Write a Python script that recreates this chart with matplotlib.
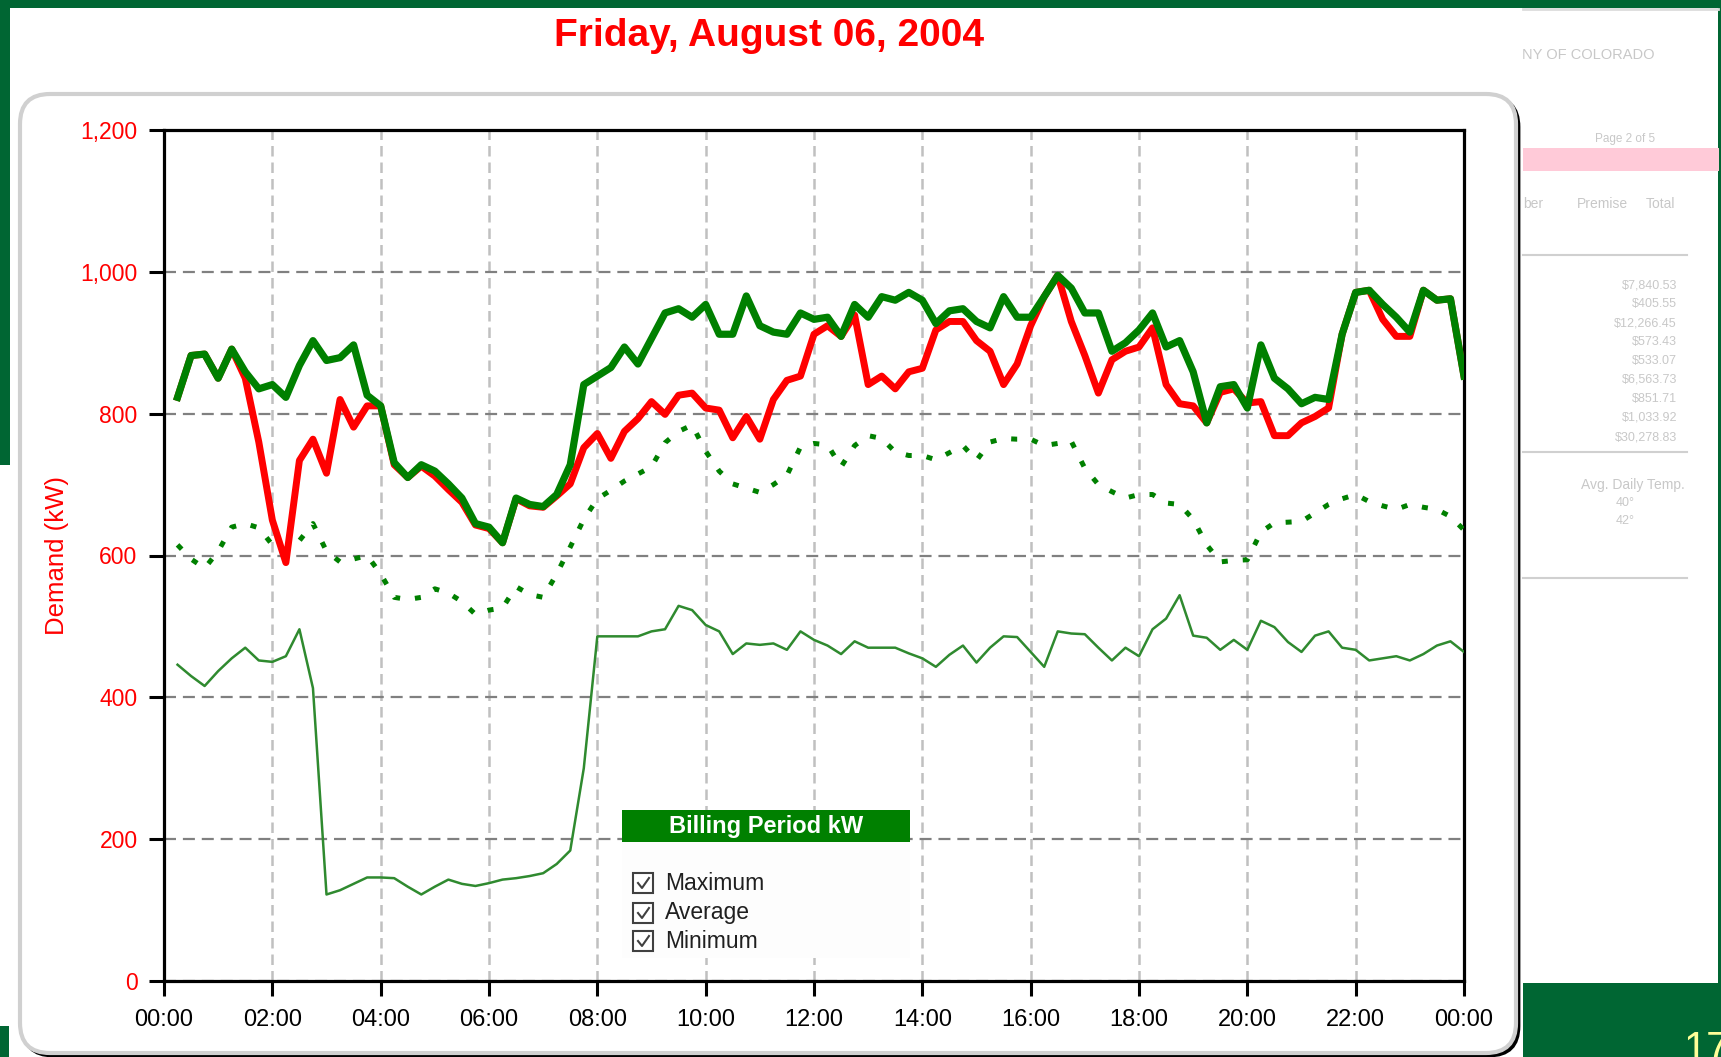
import numpy as np
import matplotlib
matplotlib.use('Agg')
import matplotlib.pyplot as plt
from matplotlib.patches import Rectangle, FancyBboxPatch
from matplotlib.lines import Line2D
from matplotlib.transforms import IdentityTransform
from matplotlib.ticker import FuncFormatter

# --- datos: demanda cada 15 min (00:15 ... 24:00), una fila por hora ---
times = np.arange(1, 97) * 0.25

dia_kw = [
    823, 882, 884, 850,  891, 850, 760, 650,  590, 734, 764, 716,  820, 781, 811, 811,
    728, 710, 726, 712,  693, 675, 643, 638,  618, 680, 670, 668,  684, 701, 752, 772,
    737, 775, 793, 817,  799, 826, 829, 808,  805, 766, 796, 764,  820, 847, 853, 912,
    924, 909, 939, 841,  853, 835, 859, 864,  918, 930, 930, 903,  888, 841, 870, 924,
    965, 995, 930, 882,  829, 876, 888, 894,  921, 841, 814, 811,  787, 830, 835, 815,
    817, 769, 769, 787,  796, 808, 912, 971,  974, 933, 909, 909,  974, 960, 962, 853,
]
maximo_kw = [
    823, 882, 884, 850,  891, 859, 835, 841,  823, 868, 903, 875,  879, 897, 826, 811,
    731, 710, 728, 719,  701, 681, 645, 640,  618, 681, 672, 669,  686, 728, 841, 853,
    865, 894, 870, 906,  942, 948, 936, 954,  912, 912, 966, 924,  915, 912, 942, 933,
    936, 909, 954, 936,  965, 960, 971, 960,  927, 945, 948, 930,  921, 965, 936, 936,
    965, 995, 977, 942,  942, 888, 900, 918,  942, 894, 903, 859,  787, 838, 841, 808,
    897, 850, 835, 814,  823, 820, 912, 971,  974, 954, 936, 915,  974, 960, 962, 853,
]
promedio_kw = [
    615, 595, 582, 606,  640, 645, 639, 615,  606, 621, 645, 606,  591, 595, 600, 574,
    541, 538, 541, 553,  547, 535, 517, 523,  526, 556, 545, 541,  574, 612, 651, 680,
    692, 705, 715, 725,  759, 775, 784, 747,  719, 701, 695, 689,  700, 713, 753, 758,
    756, 725, 755, 769,  765, 746, 741, 741,  735, 745, 755, 734,  760, 765, 764, 764,
    755, 758, 761, 723,  700, 690, 681, 686,  686, 674, 672, 651,  615, 591, 593, 594,
    633, 646, 647, 648,  660, 672, 680, 686,  676, 670, 665, 672,  668, 665, 655, 636,
]
minimo_kw = [
    446, 430, 416, 437,  455, 470, 452, 450,  458, 496, 413, 122,  128, 137, 146, 146,
    145, 133, 122, 133,  143, 137, 134, 138,  143, 145, 148, 152,  165, 184, 300, 486,
    486, 486, 486, 493,  496, 529, 523, 502,  493, 461, 476, 474,  476, 467, 493, 481,
    473, 461, 479, 470,  470, 470, 462, 455,  443, 460, 473, 449,  470, 486, 485, 464,
    443, 493, 490, 489,  470, 452, 470, 458,  496, 511, 544, 487,  484, 467, 481, 467,
    508, 499, 478, 464,  487, 493, 470, 467,  452, 455, 458, 452,  461, 473, 479, 464,
]

x_ticks = list(range(0, 25, 2))
x_labels = ['00:00', '02:00', '04:00', '06:00', '08:00', '10:00', '12:00',
            '14:00', '16:00', '18:00', '20:00', '22:00', '00:00']
y_ticks = [0, 200, 400, 600, 800, 1000, 1200]
leyenda = ['Maximum', 'Average', 'Minimum']

importes = ['$7,840.53', '$405.55', '$12,266.45', '$573.43', '$533.07',
            '$6,563.73', '$851.71', '$1,033.92', '$30,278.83']

W, H = 1721, 1057
PIX = IdentityTransform()
VERDE_OSC = '#006633'
GRIS_TXT = '#c8c8c8'


def py(y):
    """fila de pixel (desde arriba) -> coordenada de pantalla"""
    return H - y


def rect(x, y_top, w, h, **kw):
    r = Rectangle((x, py(y_top + h)), w, h, transform=PIX, **kw)
    fig.add_artist(r)
    return r


def texto(x, y, s, **kw):
    return fig.text(x, py(y), s, transform=PIX, **kw)


def linea(xs, ys, **kw):
    fig.add_artist(Line2D(xs, [py(v) for v in ys], transform=PIX, **kw))


plt.rcParams['font.family'] = ['Liberation Sans', 'DejaVu Sans']

fig = plt.figure(figsize=(W / 100, H / 100), dpi=100)
fig.patch.set_facecolor('white')

# marco verde de la diapositiva
rect(0, 0, W, 8, facecolor=VERDE_OSC, edgecolor='none', zorder=-10)
rect(0, 0, 10, 465, facecolor=VERDE_OSC, edgecolor='none', zorder=-10)
rect(0, 1026, 9, 31, facecolor=VERDE_OSC, edgecolor='none', zorder=-10)
rect(1718, 0, 3, H, facecolor=VERDE_OSC, edgecolor='none', zorder=-10)
rect(1523, 983, W - 1523, H - 983, facecolor=VERDE_OSC, edgecolor='none', zorder=-10)
# numero de diapositiva, cortado por el borde como en el original
texto(1684, 1030, '17', color='#ffff99', fontsize=30, va='top', ha='left')

# factura difuminada a la derecha
linea([1523, 1718], [9, 9], color='#dcdcdc', lw=2, zorder=-9)
texto(1522, 55, 'NY OF COLORADO', color=GRIS_TXT, fontsize=10.5, va='center')
texto(1625, 139, 'Page 2 of 5', color=GRIS_TXT, fontsize=8.5, va='center', ha='center')
rect(1523, 148, 196, 23, facecolor='#ffcad8', edgecolor='none', zorder=-9)
texto(1523, 204, 'ber', color=GRIS_TXT, fontsize=10, va='center')
texto(1577, 204, 'Premise', color=GRIS_TXT, fontsize=10, va='center')
texto(1646, 204, 'Total', color=GRIS_TXT, fontsize=10, va='center')
for yl in (255, 452, 578):
    linea([1523, 1687], [yl, yl], color='#d0d0d0', lw=1.5, zorder=-9)
for i, s in enumerate(importes):
    texto(1677, 285 + i * 19, s, color=GRIS_TXT, fontsize=9, va='center', ha='right')
texto(1685, 485, 'Avg. Daily Temp.', color=GRIS_TXT, fontsize=10, va='center', ha='right')
texto(1625, 503, '40°', color=GRIS_TXT, fontsize=9, va='center', ha='center')
texto(1625, 521, '42°', color=GRIS_TXT, fontsize=9, va='center', ha='center')

# panel redondeado con sombra
sombra = FancyBboxPatch((23, py(1056)), 1496, 959,
                        boxstyle='round,pad=0,rounding_size=30',
                        facecolor='black', edgecolor='black', lw=2,
                        transform=PIX, zorder=-4)
panel = FancyBboxPatch((20, py(1053)), 1496, 959,
                       boxstyle='round,pad=0,rounding_size=30',
                       facecolor='white', edgecolor='#d0d0d0', lw=3,
                       transform=PIX, zorder=-3)
fig.add_artist(sombra)
fig.add_artist(panel)

texto(769, 36, 'Friday, August 06, 2004', color='red', fontsize=28,
      fontweight='bold', ha='center', va='center')

# grafico
ax = fig.add_axes([164 / W, 76 / H, 1300 / W, 851 / H])
ax.set_facecolor('white')

ax.plot(times, minimo_kw, color='#2f8a2f', lw=1.8, zorder=3)
ax.plot(times, promedio_kw, color='#008000', lw=3.6,
        linestyle=(0, (1.2, 3.0)), zorder=4)
ax.plot(times, dia_kw, color='#ff0000', lw=5.0, zorder=5,
        solid_joinstyle='round')
ax.plot(times, maximo_kw, color='#008000', lw=5.2, zorder=6,
        solid_joinstyle='round')

ax.set_xlim(0, 24)
ax.set_ylim(0, 1200)
ax.set_xticks(x_ticks)
ax.set_xticklabels(x_labels)
ax.set_yticks(y_ticks)
ax.yaxis.set_major_formatter(FuncFormatter(lambda v, p: f'{int(v):,}'))

ax.set_axisbelow(True)
ax.yaxis.grid(True, color='#808080', lw=1.6, linestyle=(0, (5.4, 3.1)))
ax.xaxis.grid(True, color='#c0c0c0', lw=1.8, linestyle=(0, (4.2, 2.4)))

for sp in ax.spines.values():
    sp.set_color('black')
    sp.set_linewidth(2.3)

ax.tick_params(axis='both', direction='out', length=11, width=2.2, color='black')
ax.tick_params(axis='x', labelsize=17, pad=9, labelcolor='black')
ax.tick_params(axis='y', labelsize=16.5, pad=8, labelcolor='red')

ax.set_ylabel('Demand (kW)', color='red', fontsize=18.5)
ax.yaxis.set_label_coords(-0.073, 0.5)

# leyenda tipo casilla
rect(622, 842, 288, 116, facecolor='#fdfdfd', edgecolor='none', zorder=7)
rect(622, 810, 288, 32, facecolor='#008000', edgecolor='none', zorder=8)
texto(766, 826, 'Billing Period kW', color='white', fontsize=17,
      fontweight='bold', ha='center', va='center', zorder=9)
for nombre, yc in zip(leyenda, [883, 913, 941]):
    rect(633, yc - 10, 20, 20, facecolor='white', edgecolor='#404040', lw=1.5, zorder=8)
    linea([638, 642, 649], [yc, yc + 5, yc - 5], color='#404040', lw=1.5, zorder=9)
    texto(665, yc, nombre, color='#202020', fontsize=16.5, va='center', zorder=9)

fig.savefig('out.png', dpi=100)
